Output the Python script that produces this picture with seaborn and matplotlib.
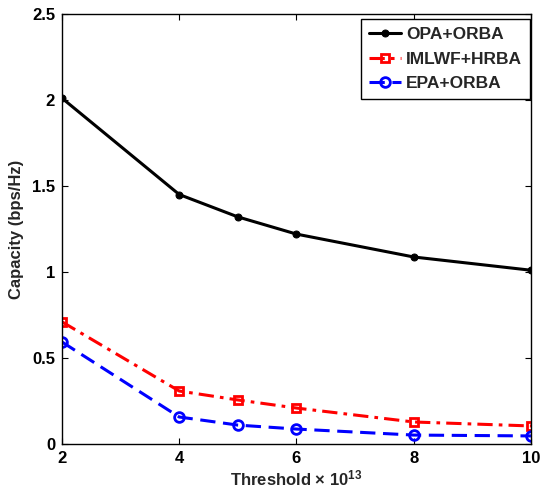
import matplotlib
matplotlib.use("Agg")
import matplotlib.pyplot as plt
import seaborn as sns
import pandas as pd

thresholds = [2, 4, 5, 6, 8, 10]
opa_orba = [2.01, 1.45, 1.32, 1.22, 1.087, 1.01]
imlwf_hrba = [0.71, 0.308, 0.256, 0.209, 0.128, 0.105]
epa_orba = [0.593, 0.157, 0.11, 0.087, 0.052, 0.047]
series_names = ["OPA+ORBA", "IMLWF+HRBA", "EPA+ORBA"]
x_ticks = [2, 4, 6, 8, 10]
y_ticks = [0, 0.5, 1, 1.5, 2, 2.5]
y_tick_labels = ["0", "0.5", "1", "1.5", "2", "2.5"]

sns.set_theme(style="white")
plt.rcParams['font.family'] = ['Liberation Sans', 'DejaVu Sans']
plt.rcParams['font.weight'] = 'bold'
plt.rcParams['mathtext.fontset'] = 'custom'
plt.rcParams['mathtext.rm'] = 'Liberation Sans:bold'
plt.rcParams['mathtext.bf'] = 'Liberation Sans:bold'
plt.rcParams['mathtext.default'] = 'bf'

fig = plt.figure(figsize=(5.44, 4.95), dpi=100)
ax = fig.add_axes([0.114, 0.103, 0.862, 0.869])

df = pd.DataFrame({
    "x": thresholds * 3,
    "y": opa_orba + imlwf_hrba + epa_orba,
    "series": [series_names[0]] * 6 + [series_names[1]] * 6 + [series_names[2]] * 6,
})

styles = {
    "OPA+ORBA": dict(color="black", linestyle="-", marker="o", markersize=5,
                     markerfacecolor="black", markeredgecolor="black"),
    "IMLWF+HRBA": dict(color="red", linestyle=(0, (5, 2, 1.2, 2)), marker="s", markersize=6,
                       markerfacecolor="none", markeredgecolor="red", markeredgewidth=2),
    "EPA+ORBA": dict(color="blue", linestyle=(0, (5, 2.5)), marker="o", markersize=7,
                     markerfacecolor="none", markeredgecolor="blue", markeredgewidth=2),
}

for name in series_names:
    sub = df[df["series"] == name]
    sns.lineplot(data=sub, x="x", y="y", ax=ax, label=name, linewidth=2.2, **styles[name])

ax.set_xlim(2, 10)
ax.set_ylim(0, 2.5)
ax.set_xticks(x_ticks)
ax.set_yticks(y_ticks)
ax.set_yticklabels(y_tick_labels)
ax.tick_params(direction="in", length=4, width=0.8, labelsize=12, top=True, right=True,
               bottom=True, left=True, colors="black", pad=5)
for lbl in ax.get_xticklabels() + ax.get_yticklabels():
    lbl.set_fontweight("bold")
for sp in ax.spines.values():
    sp.set_color("black")
    sp.set_linewidth(1.0)

ax.set_xlabel("Threshold × 10$^{13}$", fontsize=12, fontweight="bold", labelpad=2)
ax.set_ylabel("Capacity (bps/Hz)", fontsize=12, fontweight="bold", labelpad=6)

leg = ax.legend(loc="upper right", bbox_to_anchor=(0.998, 0.988), borderaxespad=0,
                fontsize=12.5, frameon=True, fancybox=False,
                edgecolor="black", framealpha=1, handlelength=1.85,
                borderpad=0.45, labelspacing=0.55, handletextpad=0.3)
leg.get_frame().set_linewidth(1.0)
for t in leg.get_texts():
    t.set_fontweight("bold")

fig.savefig("out.png", dpi=100)
